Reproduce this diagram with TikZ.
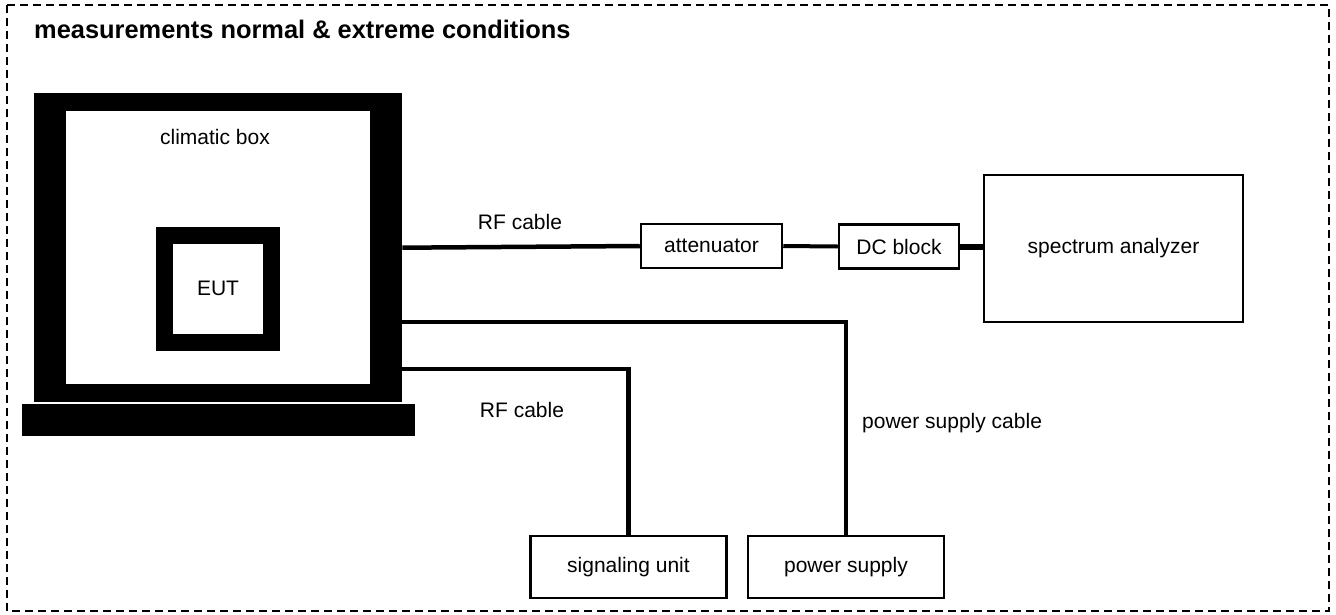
\documentclass[tikz,border=0pt]{standalone}
\usepackage{fontspec}
\setmainfont{Liberation Sans}
\usepackage{tikz}
\usetikzlibrary{positioning, calc}

\tikzset{
    unitbox/.style={draw=black, line width=2.5pt, fill=white, minimum height=44pt, inner sep=0pt},
    cable/.style={line width=4.5pt},
    wall/.style={fill=black, inner sep=0pt},
}

\begin{document}
\begin{tikzpicture}[x=1pt, y=-1pt, font=\fontsize{21}{25}\selectfont]
        \useasboundingbox (0,0) rectangle (1336,614);
        \draw[line width=1.5pt, dash pattern=on 8pt off 5pt] (7,5) rectangle (1329,611);
        \node[anchor=base west, inner sep=0pt, font=\fontsize{25.4}{30}\selectfont\bfseries] (title) at (34,38) {measurements normal \& extreme conditions};

        % climatic box with the EUT inside
        \node[wall, minimum width=368pt, minimum height=309pt, anchor=north west] (climbox) at (34,93) {};
        \node[fill=white, inner sep=0pt, minimum width=304pt, minimum height=273pt] (climin) at (climbox.center) {};
        \node[wall, minimum width=393pt, minimum height=32pt, below=1pt of climbox] (base) {};
        \node (climlabel) at (215,137) {climatic box};
        \node[draw=black, line width=17pt, minimum size=107pt, inner sep=0pt] (eut) at (218,288.5) {EUT};

        % units
        \node[unitbox, minimum width=141pt] (atten) at (711.5,246) {attenuator};
        \node[unitbox, minimum width=120pt] (dcblock) at (899,246.5) {DC block};
        \node[unitbox, minimum width=259pt, minimum height=147pt] (analyzer) at (1113.5,248.5) {spectrum analyzer};
        \node[unitbox, minimum width=196pt, minimum height=62pt] (sigunit) at (628.5,567) {signaling unit};
        \node[unitbox, minimum width=196pt, minimum height=62pt] (psupply) at (846,567) {power supply};

        % cables
        \coordinate (pwrout) at ($(climbox.east)+(0,74.5)$);
        \coordinate (sigout) at ($(climbox.east)+(0,121.5)$);
        \draw[cable] (climbox.east) -- (atten.west);
        \draw[cable, line width=4pt] (atten.east) -- (dcblock.west);
        \draw[cable, line width=6pt] (dcblock.east) -- (dcblock.east -| analyzer.west);
        \draw[cable] (pwrout) -| (psupply.north);
        \draw[cable] (sigout) -| (sigunit.north);

        \node (rflabel) at (520,222) {RF cable};
        \node (rflabeltwo) at (522,410) {RF cable};
        \node[anchor=west, inner sep=0pt] (pwrlabel) at (862,423) {power supply cable};
\end{tikzpicture}
\end{document}
